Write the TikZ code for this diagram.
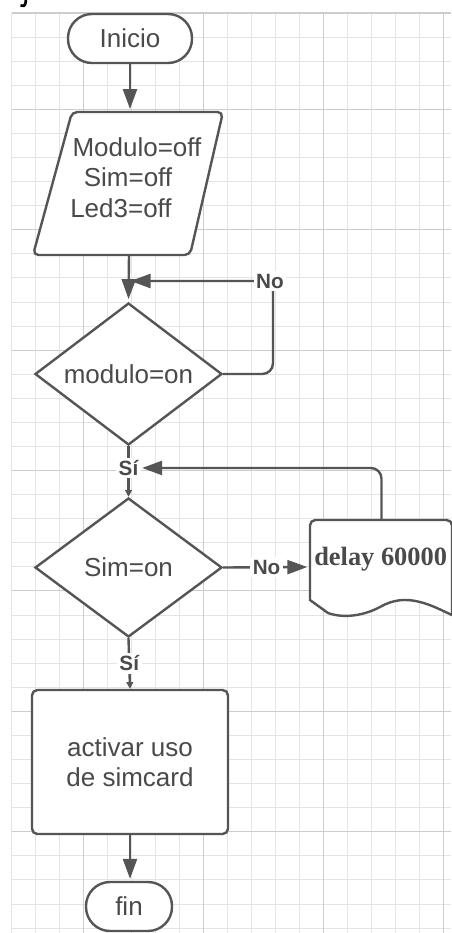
\documentclass[tikz,border=0pt]{standalone}
\usepackage{fontspec}
\setmainfont{Liberation Sans}
\newfontfamily\serifb{Liberation Serif}
\usetikzlibrary{arrows.meta,shapes.geometric,calc}
\definecolor{ln}{HTML}{555555}
\definecolor{tx}{HTML}{4A4A4A}
\definecolor{gmin}{HTML}{E4E4E4}
\definecolor{gmaj}{HTML}{CDCDCD}
\begin{document}
\begin{tikzpicture}[x=0.75pt,y=-0.75pt,
  shp/.style={draw=ln, line width=1.8pt, fill=white, text=tx, font=\fontsize{19.5}{22.5}\selectfont, inner sep=0pt, align=center},
  term/.style={shp, rounded corners=18pt},
  conn/.style={draw=ln, line width=1.8pt},
  arr/.style={conn, -{Triangle[length=15pt,width=10.5pt]}},
  sarr/.style={conn, -{Triangle[length=5pt,width=5pt]}},
  lbl/.style={fill=white, text=tx, font=\bfseries\fontsize{15.5}{18}\selectfont, inner sep=2pt},
  txt/.style={text=tx, font=\fontsize{19.5}{22.5}\selectfont, inner sep=0pt}]
\useasboundingbox[fill=white] (0,0) rectangle (451,933);
% grid
\foreach \k in {0,...,18}{\pgfmathsetmacro\xx{11.7+24*\k}\draw[gmin, line width=0.7pt] (\xx,13) -- (\xx,933);}
\foreach \k in {0,...,38}{\pgfmathsetmacro\yy{13+24.08*\k}\draw[gmin, line width=0.7pt] (11.7,\yy) -- (451,\yy);}
\foreach \k in {3,8,13,18}{\pgfmathsetmacro\xx{11.7+24*\k}\draw[gmaj, line width=0.8pt] (\xx,13) -- (\xx,933);}
\foreach \k in {0,4,9,14,19,24,29,34}{\pgfmathsetmacro\yy{13+24.08*\k}\draw[gmaj, line width=0.8pt] (11.7,\yy) -- (451,\yy);}
% stray mark at top left
\draw[black, line width=2pt] (26,-1) -- (25.5,3) .. controls (25,6) and (23,6.5) .. (20.5,5.5);
% shapes
\node[term, minimum width=93pt, minimum height=36.75pt] (inicio) at (130,38.5) {Inicio};
\draw[conn, fill=white, rounded corners=4pt] (72,112) -- (223,112) -- (190,255) -- (33,255) -- cycle;
\node[inner sep=0pt, minimum width=120pt, minimum height=107.25pt] (init) at (129,183.5) {};
\node[txt] (t1) at (137,147) {Modulo=off};
\node[txt] (t2) at (128,177) {Sim=off};
\node[txt] (t3) at (121,208) {Led3=off};
\node[shp, diamond, aspect=1.3, minimum width=140.25pt, minimum height=106.5pt] (d1) at (128.5,374) {modulo=on};
\node[shp, diamond, aspect=1.3, minimum width=140.25pt, minimum height=104.25pt] (d2) at (128.5,567.5) {Sim=on};
\node[shp, rounded corners=4pt, minimum width=147pt, minimum height=108pt] (act) at (130,762) {activar uso\\de simcard};
\node[term, minimum width=64.5pt, minimum height=36.75pt] (fin) at (129,906.5) {fin};
% delay (document shape)
\draw[conn, fill=white] (310,600) [rounded corners=4pt] -- (310,520) -- (452,520) [sharp corners] -- (452,615)
  .. controls (443,611) and (432,605) .. (420,602)
  .. controls (405,598) and (392,600) .. (380,607)
  .. controls (365,615) and (345,619) .. (328,613) -- cycle;
\node[font=\serifb\bfseries\fontsize{19.8}{22}\selectfont, text=tx, anchor=base west, inner sep=0pt] (delay) at (314,565) {delay 60000};
\coordinate (delayW) at (310,567);
\coordinate (delayN) at (381.5,520);
% connectors
\draw[arr, shorten >=2pt] (inicio.south) -- (inicio.south |- init.north);
\coordinate (j1) at (128.5,281);
\draw[arr, shorten >=2pt] (init.south) -- (d1.north);
\coordinate (cNo) at (273,281);
\draw[arr, rounded corners=8pt, shorten >=1.5pt] (d1.east) -- (cNo |- d1.east) -- (cNo) -- (j1);
\node[lbl] (no1) at (270,281) {No};
\draw[sarr] (d1.south) -- (d2.north) node[lbl, pos=0.43] (si1) {Sí};
\draw[arr, rounded corners=8pt] (delayN) |- (si1.east);
\draw[arr, shorten >=2pt] (d2.east) -- node[lbl] (no2) {No} (delayW);
\draw[sarr] (d2.south) -- node[lbl] (si2) {Sí} (act.north);
\draw[arr, shorten >=1.5pt] (act.south) -- (act.south |- fin.north);
\end{tikzpicture}
\end{document}
